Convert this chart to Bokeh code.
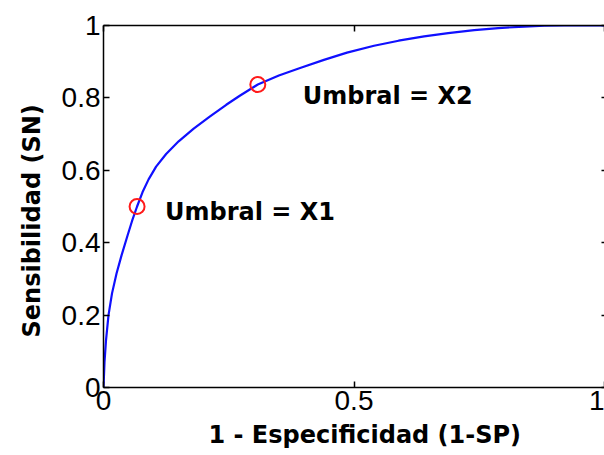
from bokeh.plotting import figure
from bokeh.models import (LinearAxis, Label, FixedTicker, ColumnDataSource,
                          Title, CustomJSTickFormatter)
from bokeh.embed import file_html
from bokeh.resources import INLINE

# ROC curve: false positive rate (1 - specificity) vs. sensitivity
fpr = [0, 0.002, 0.005, 0.010, 0.017, 0.026, 0.036, 0.048, 0.057, 0.067, 0.078,
       0.090, 0.105, 0.125, 0.150, 0.180, 0.212, 0.245, 0.272, 0.308, 0.350,
       0.391, 0.440, 0.486, 0.540, 0.589, 0.640, 0.688, 0.740, 0.788, 0.840,
       0.880, 0.920, 1.0]
tpr = [0, 0.07, 0.13, 0.20, 0.26, 0.315, 0.365, 0.42, 0.46, 0.50, 0.54,
       0.575, 0.61, 0.645, 0.68, 0.715, 0.748, 0.781, 0.806, 0.837, 0.862,
       0.882, 0.905, 0.925, 0.944, 0.958, 0.970, 0.979, 0.987, 0.993, 0.997,
       0.9995, 1.0, 1.0]

# operating points for the two thresholds
thr_names = ["Umbral = X1", "Umbral = X2"]
thr_fpr = [0.067, 0.308]
thr_tpr = [0.50, 0.837]

x_ticks = [0, 0.5, 1]
x_tick_labels = ["0", "0.5", "1"]
y_ticks = [0, 0.2, 0.4, 0.6, 0.8, 1]
y_tick_labels = ["0", "0.2", "0.4", "0.6", "0.8", "1"]

x_title = "1 - Especificidad (1-SP)"
y_title = "Sensibilidad (SN)"

BOLD = "DejaVu Sans"
TICK_FONT = "Liberation Sans"

p = figure(width=604, height=455, x_range=(0, 1), y_range=(0, 1),
           output_backend="svg", toolbar_location=None,
           min_border_left=103, min_border_right=0,
           min_border_top=25, min_border_bottom=68,
           background_fill_color="white", border_fill_color="white")
p.outline_line_color = None
p.grid.visible = False


def style_axis(ax, ticks, labels, show_labels=True):
    ax.ticker = FixedTicker(ticks=ticks)
    ax.axis_line_color = "black"
    ax.axis_line_width = 1.5
    ax.major_tick_line_color = "black"
    ax.major_tick_line_width = 1.5
    ax.major_tick_in = 6
    ax.major_tick_out = 0
    ax.minor_tick_line_color = None
    ax.major_label_text_font = TICK_FONT
    ax.major_label_text_color = "black"
    ax.major_label_text_font_size = "28px"
    if show_labels:
        ax.major_label_overrides = dict(zip(ticks, labels))
        ax.major_label_standoff = 3
    else:
        ax.formatter = CustomJSTickFormatter(code="return ''")
        ax.major_label_standoff = 0


style_axis(p.xaxis[0], x_ticks, x_tick_labels)
style_axis(p.yaxis[0], y_ticks, y_tick_labels)

# mirrored box axes (ticks only)
top = LinearAxis()
style_axis(top, x_ticks, x_tick_labels, show_labels=False)
p.add_layout(top, "above")

right = LinearAxis()
style_axis(right, y_ticks, y_tick_labels, show_labels=False)
right.axis_line_color = None
right.major_tick_in = 3
p.add_layout(right, "right")

# ROC curve
p.line(fpr, tpr, line_color="#1010ff", line_width=2.2)

# threshold markers
src = ColumnDataSource(dict(x=thr_fpr, y=thr_tpr, name=thr_names))
p.scatter("x", "y", source=src, marker="circle", size=15,
          fill_color=None, line_color="#ff1a1a", line_width=2)

# threshold annotations
label_offsets = [(28, -5), (45, -11)]
for name, x, y, (dx, dy) in zip(thr_names, thr_fpr, thr_tpr, label_offsets):
    p.add_layout(Label(x=x, y=y, x_offset=dx, y_offset=dy, text=name,
                       text_font=BOLD, text_font_style="bold",
                       text_font_size="24px", text_color="black",
                       text_align="left", text_baseline="alphabetic"))

# axis titles
p.add_layout(Title(text=x_title, align="left", offset=105, standoff=12,
                   text_font=BOLD, text_font_style="bold", text_font_size="24px",
                   text_color="black"), "below")
p.add_layout(Title(text=y_title, align="left", offset=50, standoff=26,
                   text_font=BOLD, text_font_style="bold", text_font_size="24px",
                   text_color="black"), "left")

open("out.html", "w").write(file_html(p, INLINE))
